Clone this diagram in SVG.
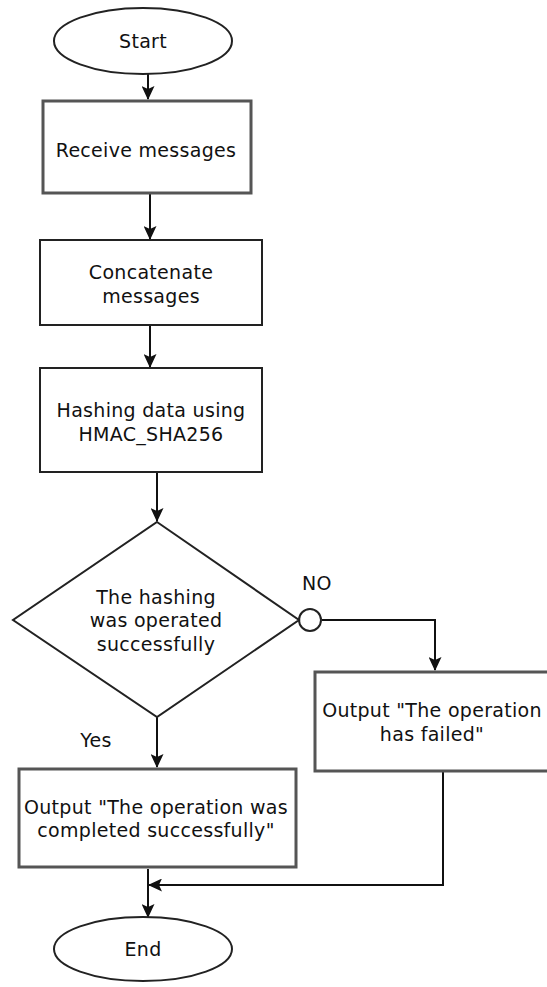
<svg xmlns="http://www.w3.org/2000/svg" width="547" height="987" viewBox="0 0 547 987">
<style>
.sh{fill:#fff;stroke:#222;stroke-width:2}
.sg{fill:#fff;stroke:#555;stroke-width:3}
.t{font-family:"DejaVu Sans",Verdana,sans-serif;font-size:19px;letter-spacing:0.3px;fill:#111;text-anchor:middle}
.c{fill:none;stroke:#111;stroke-width:2}
</style>
<defs>
<marker id="ah" markerWidth="14" markerHeight="13" refX="13" refY="6.5" orient="auto" markerUnits="userSpaceOnUse">
<path d="M0,0 L14,6.5 L0,13 L3,6.5 Z" fill="#111"/>
</marker>
</defs>
<rect width="547" height="987" fill="#fff"/>
<g id="connectors">
<line class="c" x1="148" y1="74" x2="148" y2="99" marker-end="url(#ah)"/>
<line class="c" x1="150" y1="194" x2="150" y2="239" marker-end="url(#ah)"/>
<line class="c" x1="150" y1="325" x2="150" y2="367" marker-end="url(#ah)"/>
<line class="c" x1="157" y1="472" x2="157" y2="521" marker-end="url(#ah)"/>
<polyline class="c" points="322,620 435,620 435,670" marker-end="url(#ah)"/>
<line class="c" x1="157" y1="717" x2="157" y2="767" marker-end="url(#ah)"/>
<polyline class="c" points="443,772 443,885 149,885" marker-end="url(#ah)"/>
<line class="c" x1="148" y1="869" x2="148" y2="917" marker-end="url(#ah)"/>
<circle cx="310" cy="620" r="11" fill="#fff" stroke="#222" stroke-width="2"/>
<text class="t" x="317" y="590">NO</text>
<text class="t" x="96" y="747">Yes</text>
</g>
<g id="start">
<ellipse class="sh" cx="143" cy="41" rx="89" ry="33"/>
<text class="t" x="143" y="48">Start</text>
</g>
<g id="receive">
<rect class="sg" x="43" y="101" width="208" height="92"/>
<text class="t" x="146" y="157">Receive messages</text>
</g>
<g id="concat">
<rect class="sh" x="40" y="240" width="222" height="85"/>
<text class="t" x="151" y="279">Concatenate</text>
<text class="t" x="151" y="303">messages</text>
</g>
<g id="hash">
<rect class="sh" x="40" y="368" width="222" height="104"/>
<text class="t" x="151" y="417">Hashing data using</text>
<text class="t" x="151" y="441">HMAC_SHA256</text>
</g>
<g id="decision">
<polygon class="sh" points="157,522 299,620 157,717 13,620"/>
<text class="t" x="156" y="604">The hashing</text>
<text class="t" x="156" y="627">was operated</text>
<text class="t" x="156" y="651">successfully</text>
</g>
<g id="fail">
<rect class="sg" x="315" y="672" width="240" height="99"/>
<text class="t" x="432" y="717">Output "The operation</text>
<text class="t" x="432" y="741">has failed"</text>
</g>
<g id="success">
<rect class="sg" x="19" y="769" width="277" height="98"/>
<text class="t" x="156" y="814">Output "The operation was</text>
<text class="t" x="156" y="837">completed successfully"</text>
</g>
<g id="end">
<ellipse class="sh" cx="143" cy="949" rx="89" ry="32"/>
<text class="t" x="143" y="956">End</text>
</g>
</svg>
